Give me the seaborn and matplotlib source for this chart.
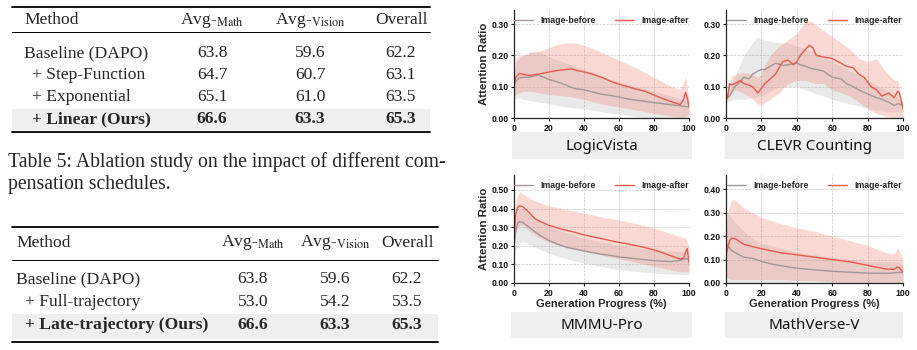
import numpy as np
import pandas as pd
import matplotlib
matplotlib.use("Agg")
import matplotlib.pyplot as plt
from matplotlib.patches import Rectangle
import seaborn as sns

# ---------------- data ----------------
# Table 5 (compensation schedules)
t1_methods = ["Baseline (DAPO)", "+ Step-Function", "+ Exponential", "+ Linear (Ours)"]
t1_math = ["63.8", "64.7", "65.1", "66.6"]
t1_vision = ["59.6", "60.7", "61.0", "63.3"]
t1_overall = ["62.2", "63.1", "63.5", "65.3"]
# second table (trajectory)
t2_methods = ["Baseline (DAPO)", "+ Full-trajectory", "+ Late-trajectory (Ours)"]
t2_math = ["63.8", "53.0", "66.6"]
t2_vision = ["59.6", "54.2", "63.3"]
t2_overall = ["62.2", "53.5", "65.3"]
headers = ["Method", r"Avg-$_{\mathrm{Math}}$", r"Avg-$_{\mathrm{Vision}}$", "Overall"]
caption = ["Table 5: Ablation study on the impact of different com-",
           "pensation schedules."]

# Panel: LogicVista
lv_x = [0, 1, 3, 5, 8, 10, 14, 20, 25, 30, 33, 36, 40, 45, 50, 55, 60, 65, 70, 75, 80, 85, 90, 95, 97, 98, 99, 100]
lv_after = [0.10, 0.13, 0.142, 0.14, 0.136, 0.137, 0.140, 0.147, 0.152, 0.155, 0.157, 0.152, 0.147, 0.140, 0.130, 0.118,
            0.108, 0.100, 0.092, 0.085, 0.073, 0.062, 0.052, 0.043, 0.060, 0.082, 0.065, 0.035]
lv_before = [0.10, 0.118, 0.128, 0.130, 0.130, 0.132, 0.137, 0.123, 0.115, 0.105, 0.097, 0.093, 0.090, 0.083, 0.076,
             0.072, 0.067, 0.061, 0.057, 0.053, 0.049, 0.046, 0.042, 0.039, 0.037, 0.037, 0.036, 0.035]
lv_bx = [0, 1, 3, 5, 10, 15, 20, 25, 30, 35, 40, 45, 50, 55, 60, 65, 70, 75, 80, 85, 90, 95, 98, 100]
lv_after_hi = [0.12, 0.19, 0.20, 0.20, 0.21, 0.215, 0.225, 0.235, 0.24, 0.24, 0.232, 0.222, 0.21, 0.197, 0.185, 0.172,
               0.16, 0.145, 0.13, 0.115, 0.10, 0.09, 0.13, 0.06]
lv_after_lo = [0.07, 0.075, 0.08, 0.085, 0.085, 0.08, 0.075, 0.072, 0.07, 0.065, 0.06, 0.052, 0.045, 0.04, 0.035, 0.03,
               0.025, 0.02, 0.015, 0.01, 0.005, 0.003, 0.005, 0.01]
lv_before_hi = [0.12, 0.18, 0.19, 0.20, 0.21, 0.21, 0.195, 0.185, 0.175, 0.165, 0.155, 0.145, 0.135, 0.125, 0.115, 0.108,
                0.10, 0.092, 0.085, 0.078, 0.07, 0.06, 0.055, 0.05]
lv_before_lo = [0.06, 0.062, 0.065, 0.06, 0.055, 0.05, 0.045, 0.04, 0.035, 0.032, 0.03, 0.025, 0.02, 0.016, 0.012, 0.008,
                0.005, 0.002, 0.0, 0.0, 0.0, 0.0, 0.0, 0.0]

# Panel: CLEVR Counting
cl_x = [0, 1, 2, 3, 5, 8, 10, 13, 15, 18, 20, 22, 25, 28, 30, 32, 35, 38, 40, 42, 45, 47, 49, 51, 55, 60, 65, 68, 72,
        75, 78, 82, 85, 88, 92, 95, 97, 98, 100]
cl_after = [0.06, 0.07, 0.11, 0.105, 0.11, 0.12, 0.11, 0.105, 0.10, 0.08, 0.095, 0.11, 0.125, 0.14, 0.16, 0.18, 0.185,
            0.17, 0.18, 0.20, 0.22, 0.232, 0.225, 0.20, 0.195, 0.19, 0.175, 0.165, 0.16, 0.14, 0.13, 0.10, 0.09, 0.07,
            0.08, 0.065, 0.085, 0.08, 0.03]
cl_before = [0.06, 0.065, 0.07, 0.08, 0.10, 0.115, 0.13, 0.125, 0.14, 0.15, 0.155, 0.155, 0.165, 0.175, 0.172, 0.168,
             0.17, 0.173, 0.175, 0.17, 0.165, 0.16, 0.157, 0.155, 0.15, 0.13, 0.125, 0.11, 0.10, 0.09, 0.082, 0.072,
             0.065, 0.06, 0.05, 0.04, 0.045, 0.045, 0.04]
cl_bx = [0, 3, 5, 10, 15, 18, 20, 22, 25, 30, 35, 40, 45, 48, 50, 55, 60, 65, 70, 75, 80, 85, 90, 95, 97, 100]
cl_after_hi = [0.07, 0.13, 0.14, 0.145, 0.14, 0.13, 0.14, 0.17, 0.20, 0.23, 0.25, 0.27, 0.31, 0.31, 0.30, 0.28, 0.26,
               0.24, 0.22, 0.19, 0.18, 0.19, 0.15, 0.12, 0.12, 0.04]
cl_after_lo = [0.05, 0.08, 0.09, 0.08, 0.06, 0.045, 0.04, 0.05, 0.06, 0.08, 0.11, 0.12, 0.12, 0.115, 0.11, 0.11, 0.09,
               0.08, 0.07, 0.05, 0.03, 0.015, 0.005, 0.0, 0.0, 0.0]
cl_before_hi = [0.07, 0.10, 0.13, 0.20, 0.24, 0.26, 0.25, 0.25, 0.245, 0.24, 0.24, 0.23, 0.22, 0.215, 0.21, 0.195, 0.18,
                0.165, 0.15, 0.135, 0.12, 0.105, 0.09, 0.07, 0.065, 0.05]
cl_before_lo = [0.05, 0.055, 0.06, 0.06, 0.065, 0.068, 0.07, 0.075, 0.085, 0.10, 0.10, 0.10, 0.09, 0.085, 0.08, 0.07,
                0.06, 0.052, 0.045, 0.038, 0.03, 0.025, 0.02, 0.02, 0.02, 0.02]

# Panel: MMMU-Pro
mp_x = [0, 1, 2, 3, 5, 8, 10, 12, 15, 20, 25, 30, 35, 40, 45, 50, 55, 60, 65, 70, 75, 80, 85, 90, 95, 97, 98, 99, 100]
mp_after = [0.25, 0.37, 0.405, 0.415, 0.41, 0.385, 0.365, 0.345, 0.33, 0.31, 0.295, 0.283, 0.272, 0.258, 0.248, 0.238,
            0.228, 0.218, 0.21, 0.20, 0.19, 0.178, 0.162, 0.145, 0.128, 0.135, 0.165, 0.185, 0.11]
mp_before = [0.20, 0.28, 0.32, 0.33, 0.325, 0.305, 0.29, 0.275, 0.255, 0.228, 0.208, 0.192, 0.182, 0.172, 0.163, 0.155,
             0.148, 0.14, 0.135, 0.13, 0.125, 0.12, 0.117, 0.115, 0.122, 0.128, 0.13, 0.13, 0.12]
mp_bx = [0, 1, 3, 5, 10, 15, 20, 30, 40, 50, 60, 70, 80, 90, 95, 98, 100]
mp_after_hi = [0.30, 0.44, 0.49, 0.48, 0.45, 0.43, 0.415, 0.395, 0.375, 0.355, 0.338, 0.318, 0.295, 0.265, 0.25, 0.24, 0.20]
mp_after_lo = [0.20, 0.27, 0.31, 0.31, 0.27, 0.24, 0.22, 0.19, 0.17, 0.15, 0.13, 0.11, 0.09, 0.07, 0.06, 0.06, 0.06]
mp_before_hi = [0.25, 0.35, 0.40, 0.40, 0.36, 0.33, 0.30, 0.27, 0.24, 0.22, 0.20, 0.19, 0.18, 0.17, 0.17, 0.16, 0.15]
mp_before_lo = [0.12, 0.18, 0.21, 0.225, 0.20, 0.18, 0.16, 0.13, 0.107, 0.088, 0.071, 0.062, 0.053, 0.048, 0.046, 0.045, 0.045]

# Panel: MathVerse-V
mv_x = [0, 1, 2, 3, 5, 8, 10, 15, 20, 25, 30, 40, 50, 60, 70, 80, 90, 95, 97, 98, 100]
mv_after = [0.12, 0.15, 0.18, 0.19, 0.19, 0.175, 0.165, 0.155, 0.146, 0.138, 0.13, 0.12, 0.11, 0.10, 0.09, 0.075, 0.06,
            0.058, 0.068, 0.065, 0.045]
mv_before = [0.17, 0.16, 0.15, 0.14, 0.13, 0.118, 0.11, 0.105, 0.092, 0.082, 0.075, 0.063, 0.056, 0.05, 0.046, 0.042,
             0.041, 0.043, 0.045, 0.045, 0.045]
mv_bx = [0, 1, 3, 5, 10, 15, 20, 30, 40, 50, 60, 70, 80, 90, 95, 97, 100]
mv_after_hi = [0.20, 0.30, 0.355, 0.355, 0.32, 0.30, 0.28, 0.255, 0.235, 0.22, 0.20, 0.18, 0.16, 0.13, 0.125, 0.15, 0.10]
mv_after_lo = [0.03, 0.02, 0.015, 0.015, 0.015, 0.015, 0.015, 0.015, 0.012, 0.01, 0.005, 0.0, 0.0, 0.0, 0.0, 0.0, 0.0]
mv_before_hi = [0.31, 0.30, 0.28, 0.26, 0.22, 0.19, 0.17, 0.15, 0.13, 0.12, 0.11, 0.10, 0.09, 0.09, 0.09, 0.09, 0.08]
mv_before_lo = [0.0] * 17

panel_titles = ["LogicVista", "CLEVR Counting", "MMMU-Pro", "MathVerse-V"]
series_names = ["Image-before", "Image-after"]
x_label = "Generation Progress (%)"
y_label = "Attention Ratio"

# ---------------- style ----------------
sns.set_theme(style="ticks")
plt.rcParams["font.family"] = ["Liberation Sans", "DejaVu Sans"]
plt.rcParams["mathtext.fontset"] = "stix"

GRAY_LINE = "#a39898"
RED_LINE = "#ea5a4e"
GRAY_FILL = "#b0b0b0"
RED_FILL = "#f08070"

fig = plt.figure(figsize=(9.17, 3.5), dpi=100)

# background axes in pixel coordinates for tables and labels
bg = fig.add_axes([0, 0, 1, 1])
bg.set_xlim(0, 917)
bg.set_ylim(350, 0)
bg.axis("off")

serif = ["Liberation Serif", "DejaVu Serif"]
TFS = 12.6
CFS = 14.2

def draw_table(y_top, y_head, y_mid, rows_y, y_bot, shade, x0, x1, xm, xind, cols, methods, c1, c2, c3):
    bg.add_patch(Rectangle((x0, shade[0]), x1 - x0, shade[1] - shade[0], color="#efefef", lw=0))
    bg.plot([x0, x1], [y_top, y_top], color="black", lw=1.3)
    bg.plot([x0, x1], [y_mid, y_mid], color="black", lw=0.7)
    bg.plot([x0, x1], [y_bot, y_bot], color="black", lw=1.3)
    bg.text(xm, y_head, headers[0], ha="left", va="center", fontsize=TFS, family=serif)
    for h, cx in zip(headers[1:], cols):
        bg.text(cx, y_head, h, ha="center", va="center", fontsize=TFS, family=serif)
    n = len(methods)
    for i, (m, a, b, c) in enumerate(zip(methods, c1, c2, c3)):
        w = "bold" if i == n - 1 else "normal"
        bg.text(xm if i == 0 else xind, rows_y[i], m, ha="left", va="center", fontsize=TFS, family=serif, fontweight=w)
        for v, cx in zip((a, b, c), cols):
            bg.text(cx, rows_y[i], v, ha="center", va="center", fontsize=TFS, family=serif, fontweight=w)

draw_table(7, 20, 32, [53, 75, 97, 119], 132, (109, 130), 12, 430, 24, 32,
           [212, 310, 401], t1_methods, t1_math, t1_vision, t1_overall)
bg.text(8, 162, caption[0], ha="left", va="center", fontsize=CFS, family=serif)
bg.text(8, 185, caption[1], ha="left", va="center", fontsize=CFS, family=serif)
draw_table(227, 243, 260, [279, 302, 325], 342, (314, 339), 12, 438, 16, 25,
           [253, 335, 407], t2_methods, t2_math, t2_vision, t2_overall)

# ---------------- plots ----------------
panels = [
    (lv_x, lv_before, lv_after, lv_bx, lv_before_lo, lv_before_hi, lv_after_lo, lv_after_hi),
    (cl_x, cl_before, cl_after, cl_bx, cl_before_lo, cl_before_hi, cl_after_lo, cl_after_hi),
    (mp_x, mp_before, mp_after, mp_bx, mp_before_lo, mp_before_hi, mp_after_lo, mp_after_hi),
    (mv_x, mv_before, mv_after, mv_bx, mv_before_lo, mv_before_hi, mv_after_lo, mv_after_hi),
]
# axes rects in pixels: left, top, right, bottom
rects = [(514, 10, 689, 118), (726, 10, 903, 118), (514, 175, 689, 283), (726, 175, 903, 283)]
ylims = [0.345, 0.345, 0.58, 0.46]
ytick_sets = [[0, 0.1, 0.2, 0.3], [0, 0.1, 0.2, 0.3], [0, 0.1, 0.2, 0.3, 0.4, 0.5], [0, 0.1, 0.2, 0.3, 0.4]]
boxes = [(512, 132, 692, 159), (725, 132, 904, 159), (511, 312, 692, 338), (725, 312, 903, 338)]

for k, (p, r) in enumerate(zip(panels, rects)):
    x, before, after, bx, blo, bhi, alo, ahi = p
    l, t, rr, b = r
    ax = fig.add_axes([l / 917, 1 - b / 350, (rr - l) / 917, (b - t) / 350])
    ax.fill_between(bx, blo, bhi, color=GRAY_FILL, alpha=0.28, lw=0)
    ax.fill_between(bx, alo, ahi, color=RED_FILL, alpha=0.3, lw=0)
    df = pd.DataFrame({
        "x": list(x) * 2,
        "y": list(before) + list(after),
        "s": [series_names[0]] * len(x) + [series_names[1]] * len(x),
    })
    sns.lineplot(data=df, x="x", y="y", hue="s", palette=[GRAY_LINE, RED_LINE],
                 linewidth=1.0, ax=ax, estimator=None, sort=False)
    ax.set_xlim(0, 100)
    ax.set_ylim(0, ylims[k])
    ax.set_xticks([0, 20, 40, 60, 80, 100])
    ax.set_yticks(ytick_sets[k])
    ax.set_yticklabels([f"{v:.2f}" for v in ytick_sets[k]])
    ax.grid(True, ls="--", lw=0.5, color="#c8c8c8")
    sns.despine(ax=ax)
    for s in ["left", "bottom"]:
        ax.spines[s].set_linewidth(0.9)
        ax.spines[s].set_color("#222222")
    ax.tick_params(axis="both", labelsize=6.3, length=2.5, width=0.8, pad=1.5, colors="#111111")
    for lab in ax.get_xticklabels() + ax.get_yticklabels():
        lab.set_fontweight("bold")
    ax.set_ylabel(y_label if k in (0, 2) else "", fontsize=8.2, fontweight="bold", labelpad=2)
    ax.set_xlabel(x_label if k in (2, 3) else "", fontsize=8.0, fontweight="bold", labelpad=1)
    h, lbl = ax.get_legend_handles_labels()
    ax.legend(h, lbl, loc="upper center", bbox_to_anchor=(0.5, 1.02), ncol=2, frameon=False,
              prop={"size": 6.3, "weight": "bold"}, handlelength=2.2, columnspacing=2.2, handletextpad=0.8)
    bl, btp, br, bb = boxes[k]
    bg.add_patch(Rectangle((bl, btp), br - bl, bb - btp, color="#efefef", lw=0))
    bg.text((bl + br) / 2, (btp + bb) / 2 + 0.5, panel_titles[k], ha="center", va="center",
            fontsize=11, family=["Noto Sans", "DejaVu Sans"], color="#111111")

fig.savefig("out.png", dpi=100)
